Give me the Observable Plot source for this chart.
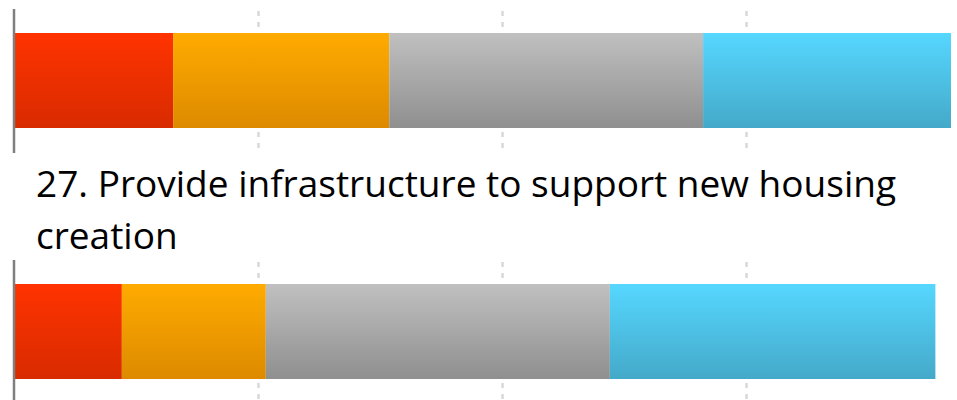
<!DOCTYPE html>
<html>
<head>
<meta charset="utf-8">
<script src="https://cdn.jsdelivr.net/npm/d3@7"></script>
<script src="https://cdn.jsdelivr.net/npm/@observablehq/plot@0.6"></script>
<style>
  html, body { margin: 0; padding: 0; background: #fff; overflow: hidden; }
  #title { font-family: "Open Sans", sans-serif; font-size: 37px; color: #000; white-space: nowrap;
           height: 107px; box-sizing: border-box; padding-left: 36px; padding-top: 4px; line-height: 52px; }
  svg { display: block; }
</style>
</head>
<body>
<svg width="0" height="0" style="position:absolute">
  <defs>
    <linearGradient id="gRed" x1="0" y1="0" x2="0" y2="1">
      <stop offset="0" stop-color="#ff3300"/><stop offset="1" stop-color="#d82b00"/>
    </linearGradient>
    <linearGradient id="gOrange" x1="0" y1="0" x2="0" y2="1">
      <stop offset="0" stop-color="#ffab00"/><stop offset="1" stop-color="#dd8a00"/>
    </linearGradient>
    <linearGradient id="gGrey" x1="0" y1="0" x2="0" y2="1">
      <stop offset="0" stop-color="#c0c0c0"/><stop offset="1" stop-color="#8f8f8f"/>
    </linearGradient>
    <linearGradient id="gBlue" x1="0" y1="0" x2="0" y2="1">
      <stop offset="0" stop-color="#56d7ff"/><stop offset="1" stop-color="#44a9c9"/>
    </linearGradient>
  </defs>
</svg>
<div id="top"></div>
<div id="title">27. Provide infrastructure to support new housing<br>creation</div>
<div id="bottom"></div>
<script>
const categories = ["cat1", "cat2", "cat3", "cat4"];
const gradients = ["url(#gRed)", "url(#gOrange)", "url(#gGrey)", "url(#gBlue)"];
const questions = ["26", "27"];
const values26 = [32.6, 44.3, 64.3, 50.8];
const values27 = [22.1, 29.5, 70.5, 66.7];
const gridTicks = [50, 100, 150];
const xMax = 192;

function chart(q, values, opts) {
  const data = categories.map((c, i) => ({q, cat: c, value: values[i], grad: gradients[i]}));
  return Plot.plot({
    width: 957,
    height: opts.height,
    marginTop: opts.marginTop,
    marginBottom: 0,
    marginLeft: 14,
    marginRight: 6,
    x: {domain: [0, xMax], axis: null},
    y: {domain: [q], axis: null, padding: 0.2},
    marks: [
      Plot.ruleX(gridTicks, {stroke: "#d9d9d4", strokeWidth: 2.5, strokeDasharray: "5,6", strokeDashoffset: 9}),
      Plot.barX(data, {x: "value", y: "q", fill: "grad"}),
      Plot.ruleX([0], {stroke: "#7f7f7f", strokeWidth: 2.5, dx: -0.5})
    ]
  });
}

document.getElementById("top").appendChild(chart(questions[0], values26, {height: 153, marginTop: 9}));
document.getElementById("bottom").appendChild(chart(questions[1], values27, {height: 144, marginTop: 0}));
</script>
</body>
</html>
